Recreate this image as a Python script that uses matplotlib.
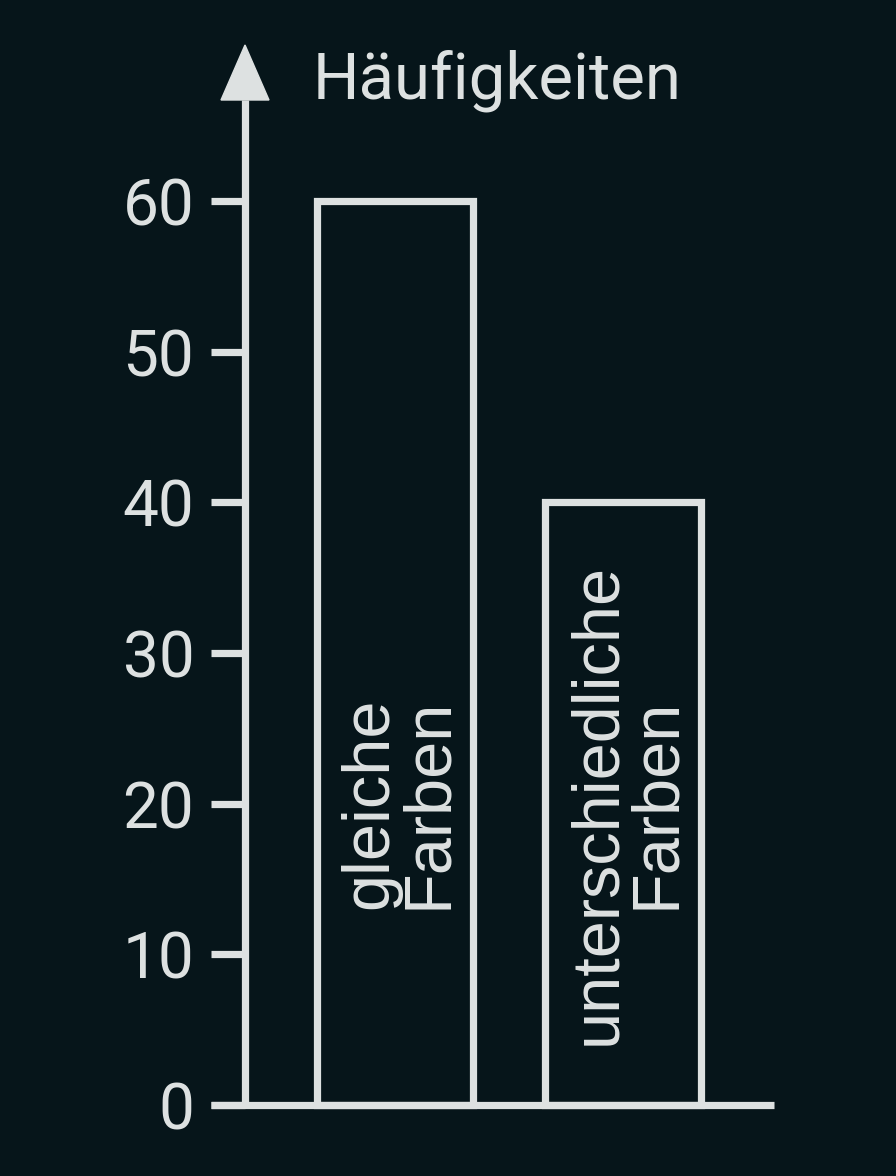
import numpy as np
import matplotlib.pyplot as plt
from matplotlib.patches import Polygon

# daten
kategorien = ['gleiche\nFarben', 'unterschiedliche\nFarben']
haeufigkeiten = [60, 40]
yticks = [0, 10, 20, 30, 40, 50, 60]
titel = 'Häufigkeiten'

bg = '#06151a'
fg = '#dde1e1'
lw = 5.2

fig = plt.figure(figsize=(8.96, 11.76), dpi=100)
fig.patch.set_facecolor(bg)
ax = fig.add_axes([0, 0, 1, 1])
ax.set_facecolor(bg)

# pixel -> daten: x=(px-395)/228, y=(1105-py)/15.07
ax.set_xlim(-395/228, (896-395)/228)
ax.set_ylim((1105-1176)/15.07, 1105/15.07)

x = np.arange(len(kategorien))
ax.bar(x, haeufigkeiten, width=0.68, fill=False, edgecolor=fg, linewidth=lw, zorder=3)

# beschriftung in den balken
for xi, lab in zip(x, kategorien):
    ax.text(xi + 0.02, 20, lab, rotation=90, ha='center', va='center', multialignment='center',
            color=fg, fontsize=48, family='Liberation Sans', linespacing=0.95, zorder=4)

# achsen
x0 = (245-395)/228
for s in ['top', 'right']:
    ax.spines[s].set_visible(False)
ax.spines['left'].set_position(('data', x0))
ax.spines['left'].set_bounds(0, (1105-100)/15.07)
ax.spines['bottom'].set_position(('data', 0))
ax.spines['bottom'].set_bounds((211-395)/228, (774-395)/228)
for s in ['left', 'bottom']:
    ax.spines[s].set_color(fg)
    ax.spines[s].set_linewidth(lw)
    ax.spines[s].set_capstyle('butt')

ax.set_xticks([])
ax.set_yticks(yticks)
ax.set_yticklabels([str(t) for t in yticks], family='Roboto', fontsize=46, color=fg)
ax.tick_params(axis='y', direction='out', length=24.5, width=lw, color=fg, pad=12)

# pfeil
ytop = (1105-45)/15.07
ybase = (1105-100)/15.07
hw = 24/228
ax.add_patch(Polygon([[x0-hw, ybase], [x0+hw, ybase], [x0, ytop]], closed=True,
                     facecolor=fg, edgecolor=fg, lw=1, clip_on=False))

fig.text(313/896, 1-99/1176, titel, family='Roboto', fontsize=47, color=fg,
         ha='left', va='baseline')

fig.savefig('out.png', dpi=100, facecolor=bg)
